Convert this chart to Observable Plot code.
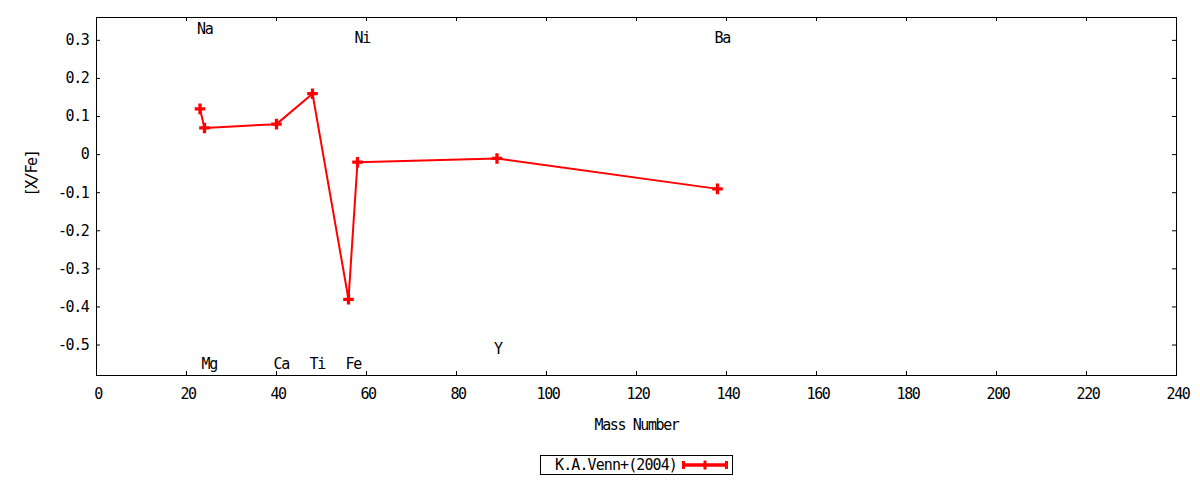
<!DOCTYPE html>
<html>
<head>
<meta charset="utf-8">
<script src="https://cdn.jsdelivr.net/npm/d3@7"></script>
<script src="https://cdn.jsdelivr.net/npm/@observablehq/plot@0.6"></script>
<style>
  html, body { margin: 0; padding: 0; background: #fff; }
  #chart svg { display: block; }
  .mono { font-family: "DejaVu Sans Mono", monospace; font-size: 15px; letter-spacing: -0.9px; }
  #legend {
    position: absolute; left: 540px; top: 455px; width: 191px; height: 18px;
    border: 1px solid #000; box-sizing: content-box;
  }
  #legend span { position: absolute; right: 55px; top: 0; line-height: 19px; color: #000; }
  #legend svg { position: absolute; left: 141px; top: 0; }
</style>
</head>
<body>
<div id="chart" style="position:relative;width:1200px;height:480px;"></div>
<script>
// Data
const elements = ["Na", "Mg", "Ca", "Ti", "Fe", "Ni", "Y", "Ba"];
const massNumbers = [23, 24, 40, 48, 56, 58, 89, 138];
const xFe = [0.12, 0.07, 0.08, 0.16, -0.38, -0.02, -0.01, -0.09];
const labelY = [0.33, -0.55, -0.55, -0.55, -0.55, 0.305, -0.51, 0.305];
const xTicks = [0, 20, 40, 60, 80, 100, 120, 140, 160, 180, 200, 220, 240];
const yTicks = [-0.5, -0.4, -0.3, -0.2, -0.1, 0, 0.1, 0.2, 0.3];
const seriesName = "K.A.Venn+(2004)";
const xLabel = "Mass Number";
const yLabel = "[X/Fe]";

const data = elements.map((e, i) => ({element: e, mass: massNumbers[i], value: xFe[i], ly: labelY[i]}));

const W = 1200, H = 445;
const mL = 96, mR = 24, mT = 17, mB = 70;
const innerW = W - mL - mR, innerH = H - mT - mB;
const tick = 4;
const fmt = d => String(+d.toFixed(1));

const chart = Plot.plot({
  width: W, height: H,
  marginLeft: mL, marginRight: mR, marginTop: mT, marginBottom: mB,
  style: {fontFamily: "DejaVu Sans Mono, monospace", fontSize: "15px", letterSpacing: "-1.4px", color: "#000", background: "#fff"},
  x: {domain: [0, 240]},
  y: {domain: [-0.58, 0.36]},
  marks: [
    // inward ticks on all four sides
    Plot.ruleX(xTicks, {x: d => d, insetTop: innerH - tick, stroke: "#000"}),
    Plot.ruleX(xTicks, {x: d => d, insetBottom: innerH - tick, stroke: "#000"}),
    Plot.ruleY(yTicks, {y: d => d, insetRight: innerW - tick, stroke: "#000"}),
    Plot.ruleY(yTicks, {y: d => d, insetLeft: innerW - tick, stroke: "#000"}),
    Plot.axisX(xTicks, {tickSize: 0, tickPadding: 13, dx: 1.5, tickFormat: fmt, label: null}),
    Plot.axisY(yTicks, {tickSize: 0, tickPadding: 8, tickFormat: fmt, label: null}),
    Plot.text([xLabel], {frameAnchor: "bottom", dy: 50, lineAnchor: "middle", fill: "#000"}),
    Plot.text([yLabel], {frameAnchor: "left", dx: -64, rotate: -90, lineAnchor: "middle", fill: "#000"}),
    Plot.frame({stroke: "#000", strokeWidth: 1}),
    Plot.line(data, {x: "mass", y: "value", stroke: "red", strokeWidth: 2}),
    Plot.dot(data, {x: "mass", y: "value", symbol: "plus", r: 3.5, stroke: "red", strokeWidth: 3.3}),
    Plot.text(data, {x: "mass", y: "ly", text: "element", textAnchor: "start", dx: -3, lineAnchor: "middle", fill: "#000"})
  ]
});
document.getElementById("chart").appendChild(chart);

// Legend (below the SVG)
const leg = document.createElement("div");
leg.id = "legend";
leg.className = "mono";
const sp = document.createElement("span");
sp.textContent = seriesName;
leg.appendChild(sp);
const ns = "http://www.w3.org/2000/svg";
const sw = document.createElementNS(ns, "svg");
sw.setAttribute("width", 46); sw.setAttribute("height", 18);
const addLine = (x1, y1, x2, y2, w) => {
  const l = document.createElementNS(ns, "line");
  l.setAttribute("x1", x1); l.setAttribute("y1", y1); l.setAttribute("x2", x2); l.setAttribute("y2", y2);
  l.setAttribute("stroke", "red"); l.setAttribute("stroke-width", w);
  sw.appendChild(l);
};
addLine(1.5, 9, 44.5, 9, 3.5);
addLine(1.5, 5, 1.5, 13, 3);
addLine(44.5, 5, 44.5, 13, 3);
addLine(23, 4.5, 23, 13.5, 3);
leg.appendChild(sw);
document.getElementById("chart").appendChild(leg);
</script>
</body>
</html>
